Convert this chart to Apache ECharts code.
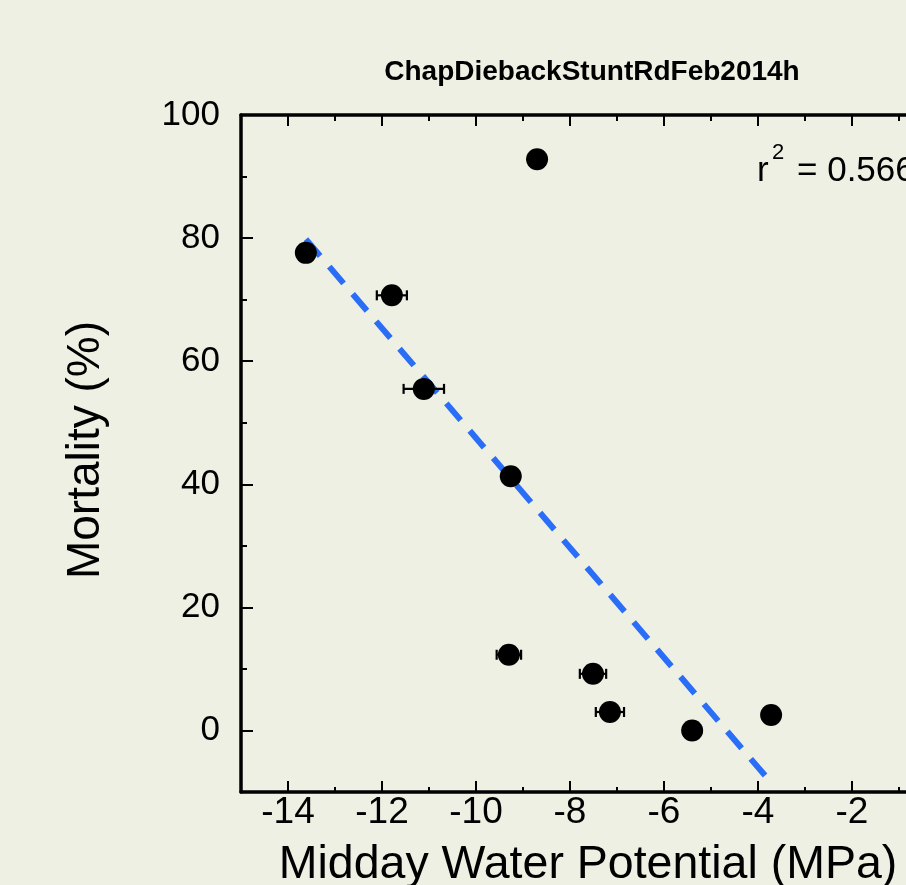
<!DOCTYPE html>
<html><head><meta charset="utf-8">
<script src="https://cdn.jsdelivr.net/npm/echarts@6/dist/echarts.min.js"></script>
<style>html,body{margin:0;padding:0;background:#EEF0E4;} #c{width:906px;height:885px;}</style>
</head><body><div id="c"></div>
<script>
// ---- data ----
const waterPotential = [-13.62, -11.79, -11.11, -9.26, -8.70, -9.30, -7.51, -7.15, -5.40, -3.72];
const mortality      = [77.6, 70.7, 55.5, 41.3, 92.8, 12.3, 9.2, 3.0, 0.0, 2.5];
const waterPotentialErr = [0, 0.32, 0.43, 0, 0, 0.26, 0.28, 0.30, 0, 0];
const fitX = [-13.62, -3.74];
const fitY = [79.8, -8.3];
const xMajorTicks = [-14, -12, -10, -8, -6, -4, -2];
const xMinorTicks = [-15, -13, -11, -9, -7, -5, -3, -1];
const yMajorTicks = [0, 20, 40, 60, 80, 100];
const yMinorTicks = [-10, 10, 30, 50, 70, 90];
const xRange = [-15, -0.85];   // visible part of the x axis (the reference is cropped at the right)
const yRange = [-10, 100];
const chartTitle = 'ChapDiebackStuntRdFeb2014h';
const xTitle = 'Midday Water Potential (MPa)';
const yTitle = 'Mortality (%)';
const r2Text = '= 0.566';

const FF = '"Liberation Sans", Arial, Helvetica, sans-serif';
const points = waterPotential.map((x, i) => [x, mortality[i], waterPotentialErr[i]]);
const fitLine = fitX.map((x, i) => [x, fitY[i]]);

function xAxisDef(pos, ticks, len, showLine, labels) {
  return {
    type: 'value', min: xRange[0], max: xRange[1], position: pos,
    axisLine: { show: showLine, onZero: false, lineStyle: { color: '#000', width: 3.5 } },
    axisTick: { show: true, inside: true, length: len, customValues: ticks, lineStyle: { color: '#000', width: 2 } },
    axisLabel: labels ? { show: true, customValues: ticks, fontSize: 37, color: '#000', fontFamily: FF, margin: 2 } : { show: false },
    splitLine: { show: false }
  };
}
function yAxisDef(ticks, len, showLine, labels) {
  return {
    type: 'value', min: yRange[0], max: yRange[1], position: 'left',
    axisLine: { show: showLine, onZero: false, lineStyle: { color: '#000', width: 3.5 } },
    axisTick: { show: true, inside: true, length: len, customValues: ticks, lineStyle: { color: '#000', width: 2 } },
    axisLabel: labels ? { show: true, customValues: ticks, fontSize: 35, color: '#000', fontFamily: FF, margin: 21 } : { show: false },
    splitLine: { show: false }
  };
}

const chart = echarts.init(document.getElementById('c'), null, { renderer: 'canvas' });
chart.setOption({
  backgroundColor: '#EEF0E4',
  animation: false,
  grid: { left: 241, top: 115, right: 0, bottom: 93, containLabel: false, outerBoundsMode: 'none' },
  xAxis: [
    xAxisDef('bottom', xMajorTicks, 11, true, true),
    xAxisDef('bottom', xMinorTicks, 5, false, false),
    xAxisDef('top', xMajorTicks, 11, true, false),
    xAxisDef('top', xMinorTicks, 6, false, false)
  ],
  yAxis: [
    yAxisDef(yMajorTicks, 12, true, true),
    yAxisDef(yMinorTicks, 6, false, false)
  ],
  series: [
    {
      type: 'line', data: fitLine, xAxisIndex: 0, yAxisIndex: 0, z: 2,
      showSymbol: false, symbol: 'none', silent: true,
      lineStyle: { color: '#2A6EF7', width: 6, type: [22, 14] }
    },
    {
      type: 'custom', data: points, xAxisIndex: 0, yAxisIndex: 0, z: 3, silent: true,
      renderItem: function (params, api) {
        const x = api.value(0), y = api.value(1), e = api.value(2);
        if (!e) return null;
        const l = api.coord([x - e, y]);
        const r = api.coord([x + e, y]);
        const st = { stroke: '#000', lineWidth: 2.2 };
        return {
          type: 'group',
          children: [
            { type: 'line', shape: { x1: l[0], y1: l[1], x2: r[0], y2: r[1] }, style: st },
            { type: 'line', shape: { x1: l[0], y1: l[1] - 5, x2: l[0], y2: l[1] + 5 }, style: st },
            { type: 'line', shape: { x1: r[0], y1: r[1] - 5, x2: r[0], y2: r[1] + 5 }, style: st }
          ]
        };
      }
    },
    {
      type: 'scatter', data: points.map(p => [p[0], p[1]]), xAxisIndex: 0, yAxisIndex: 0, z: 4,
      symbol: 'circle', symbolSize: 22, itemStyle: { color: '#000', opacity: 1 }
    }
  ],
  graphic: [
    { type: 'text', x: 592, y: 72, style: { text: chartTitle, font: 'bold 28px ' + FF, fill: '#000', align: 'center', verticalAlign: 'middle', textAlign: 'center', textVerticalAlign: 'middle' } },
    { type: 'text', x: 588, y: 865, style: { text: xTitle, font: '46.5px ' + FF, fill: '#000', align: 'center', verticalAlign: 'middle', textAlign: 'center', textVerticalAlign: 'middle' } },
    { type: 'text', x: 86, y: 450, rotation: Math.PI / 2, style: { text: yTitle, font: '46px ' + FF, fill: '#000', align: 'center', verticalAlign: 'middle', textAlign: 'center', textVerticalAlign: 'middle' } },
    { type: 'text', x: 757, y: 171, style: { text: 'r', font: '35px ' + FF, fill: '#000', align: 'left', verticalAlign: 'middle', textAlign: 'left', textVerticalAlign: 'middle' } },
    { type: 'text', x: 772, y: 153, style: { text: '2', font: '22px ' + FF, fill: '#000', align: 'left', verticalAlign: 'middle', textAlign: 'left', textVerticalAlign: 'middle' } },
    { type: 'text', x: 797, y: 171, style: { text: r2Text, font: '35px ' + FF, fill: '#000', align: 'left', verticalAlign: 'middle', textAlign: 'left', textVerticalAlign: 'middle' } }
  ]
});
</script>
</body></html>
